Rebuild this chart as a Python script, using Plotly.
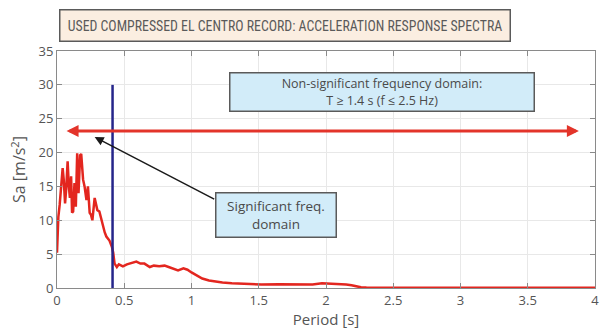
import plotly.graph_objects as go

# Response spectrum (period [s], Sa [m/s^2])
period = [0.0, 0.01, 0.02, 0.03, 0.042, 0.05, 0.06, 0.068, 0.079, 0.088, 0.096, 0.105,
          0.112, 0.12, 0.13, 0.14, 0.15, 0.16, 0.172, 0.18, 0.187, 0.194, 0.205, 0.212,
          0.219, 0.23, 0.243, 0.253, 0.263, 0.28, 0.29, 0.3, 0.315, 0.33, 0.342, 0.355,
          0.367, 0.38, 0.39, 0.408, 0.418, 0.428, 0.437, 0.445, 0.46, 0.475, 0.49, 0.52,
          0.56, 0.59, 0.62, 0.65, 0.69, 0.72, 0.76, 0.8, 0.83, 0.86, 0.9, 0.94, 0.97,
          1.0, 1.04, 1.08, 1.13, 1.18, 1.23, 1.3, 1.4, 1.52, 1.65, 1.75, 1.82, 1.9,
          1.97, 2.04, 2.09, 2.15, 2.19, 2.23, 2.26, 2.3, 2.5, 3.0, 3.5, 4.0]
sa = [5.2, 10.5, 12.3, 15.0, 17.7, 16.0, 12.5, 14.5, 18.7, 15.0, 13.3, 16.5,
      11.1, 11.3, 15.5, 12.0, 19.9, 14.0, 19.6, 19.8, 17.5, 16.0, 15.0, 13.5,
      13.0, 15.0, 11.1, 10.8, 10.0, 13.3, 12.5, 11.5, 11.3, 10.0, 9.0, 8.2,
      7.6, 7.2, 7.0, 6.1, 5.2, 3.6, 3.3, 3.1, 3.5, 3.3, 3.2, 3.5,
      3.7, 3.9, 3.6, 3.6, 3.1, 3.3, 3.2, 3.3, 3.1, 2.9, 2.6, 2.9, 2.7,
      2.3, 1.9, 1.4, 1.1, 0.9, 0.8, 0.7, 0.6, 0.5, 0.55, 0.5, 0.45, 0.5,
      0.7, 0.65, 0.6, 0.5, 0.4, 0.2, 0.1, 0.06, 0.05, 0.05, 0.05, 0.05]

limit_period = 0.413
limit_top = 30
arrow_level = 23.2
arrow_x = [0.06, 3.88]
pointer_tail = [1.18, 13.0]
pointer_head = [0.28, 22.3]

x_ticks = [0, 0.5, 1, 1.5, 2, 2.5, 3, 3.5, 4]
x_ticklabels = ["0", "0.5", "1", "1.5", "2", "2.5", "3", "3.5", "4"]
y_ticks = [0, 5, 10, 15, 20, 25, 30, 35]

title_text = "USED COMPRESSED EL CENTRO RECORD: ACCELERATION RESPONSE SPECTRA"
nonsig_text = "Non-significant frequency domain:<br>T ≥ 1.4 s (f ≤ 2.5 Hz)"
sig_text = "Significant freq.<br>domain"

FONT = "Open Sans"
TXT = "#4a4a4a"

fig = go.Figure()
fig.add_trace(go.Scatter(x=period, y=sa, mode="lines",
                         line=dict(color="#e3261f", width=2.5), hoverinfo="skip"))
fig.add_trace(go.Scatter(x=[limit_period, limit_period], y=[0, limit_top], mode="lines",
                         line=dict(color="#25258a", width=2.5), hoverinfo="skip"))

# double red arrow
fig.add_annotation(x=arrow_x[1], y=arrow_level, ax=arrow_x[0], ay=arrow_level,
                   xref="x", yref="y", axref="x", ayref="y", text="",
                   showarrow=True, arrowhead=2, startarrowhead=2, arrowside="end+start",
                   arrowsize=0.8, startarrowsize=0.8, arrowwidth=3, arrowcolor="#e3342a")
# black pointer arrow
fig.add_annotation(x=pointer_head[0], y=pointer_head[1], ax=pointer_tail[0], ay=pointer_tail[1],
                   xref="x", yref="y", axref="x", ayref="y", text="",
                   showarrow=True, arrowhead=2, arrowsize=1.2, arrowwidth=1.5,
                   arrowcolor="#1a1a1a")

W, H = 603, 333
L, R, T, B = 57, 4, 51, 45
pw, ph = W - L - R, H - T - B

def px2paper(cx, cy):
    return (cx - L) / pw, (H - B - cy) / ph

box = dict(showarrow=False, xref="paper", yref="paper", xanchor="center", yanchor="middle",
           bordercolor="#5a5a5a", borderwidth=1.5, borderpad=1)

# title box
tx, ty = px2paper(286.5, 25)
fig.add_annotation(x=tx, y=ty, text=title_text, width=447, height=28, bgcolor="#fbeee1",
                   font=dict(family="Roboto Condensed", size=13.8, color="#5a5a5a"), **box)
# non-significant box
nx, ny = px2paper(384.5, 91.5)
fig.add_annotation(x=nx, y=ny, text=nonsig_text, width=301, height=35, bgcolor="#d2ecf9",
                   font=dict(family=FONT, size=12.5, color=TXT), **box)
# significant box
sx, sy = px2paper(277.5, 214.5)
fig.add_annotation(x=sx, y=sy, text=sig_text, width=117, height=41, bgcolor="#d2ecf9",
                   font=dict(family=FONT, size=13.5, color=TXT), **box)

axis_common = dict(showline=True, linecolor="#8a8a8a", linewidth=1, mirror="ticks",
                   ticks="inside", ticklen=5, tickcolor="#8a8a8a",
                   showgrid=True, gridcolor="#e8e8e8", gridwidth=1, zeroline=False,
                   ticklabeloverflow="allow",
                   tickfont=dict(family=FONT, size=13, color="#555555"))

fig.update_layout(
    width=W, height=H, margin=dict(l=L, r=R, t=T, b=B),
    paper_bgcolor="white", plot_bgcolor="white", showlegend=False,
    xaxis=dict(range=[0, 4], tickvals=x_ticks, ticktext=x_ticklabels,
               title=dict(text="Period [s]", font=dict(family=FONT, size=15, color="#555555"),
                          standoff=2), **axis_common),
    yaxis=dict(range=[0, 35], tickvals=y_ticks,
               title=dict(text="Sa [m/s<sup>2</sup>]", font=dict(family=FONT, size=16, color="#555555"),
                          standoff=8), **axis_common),
)

fig.write_html("out.html")
